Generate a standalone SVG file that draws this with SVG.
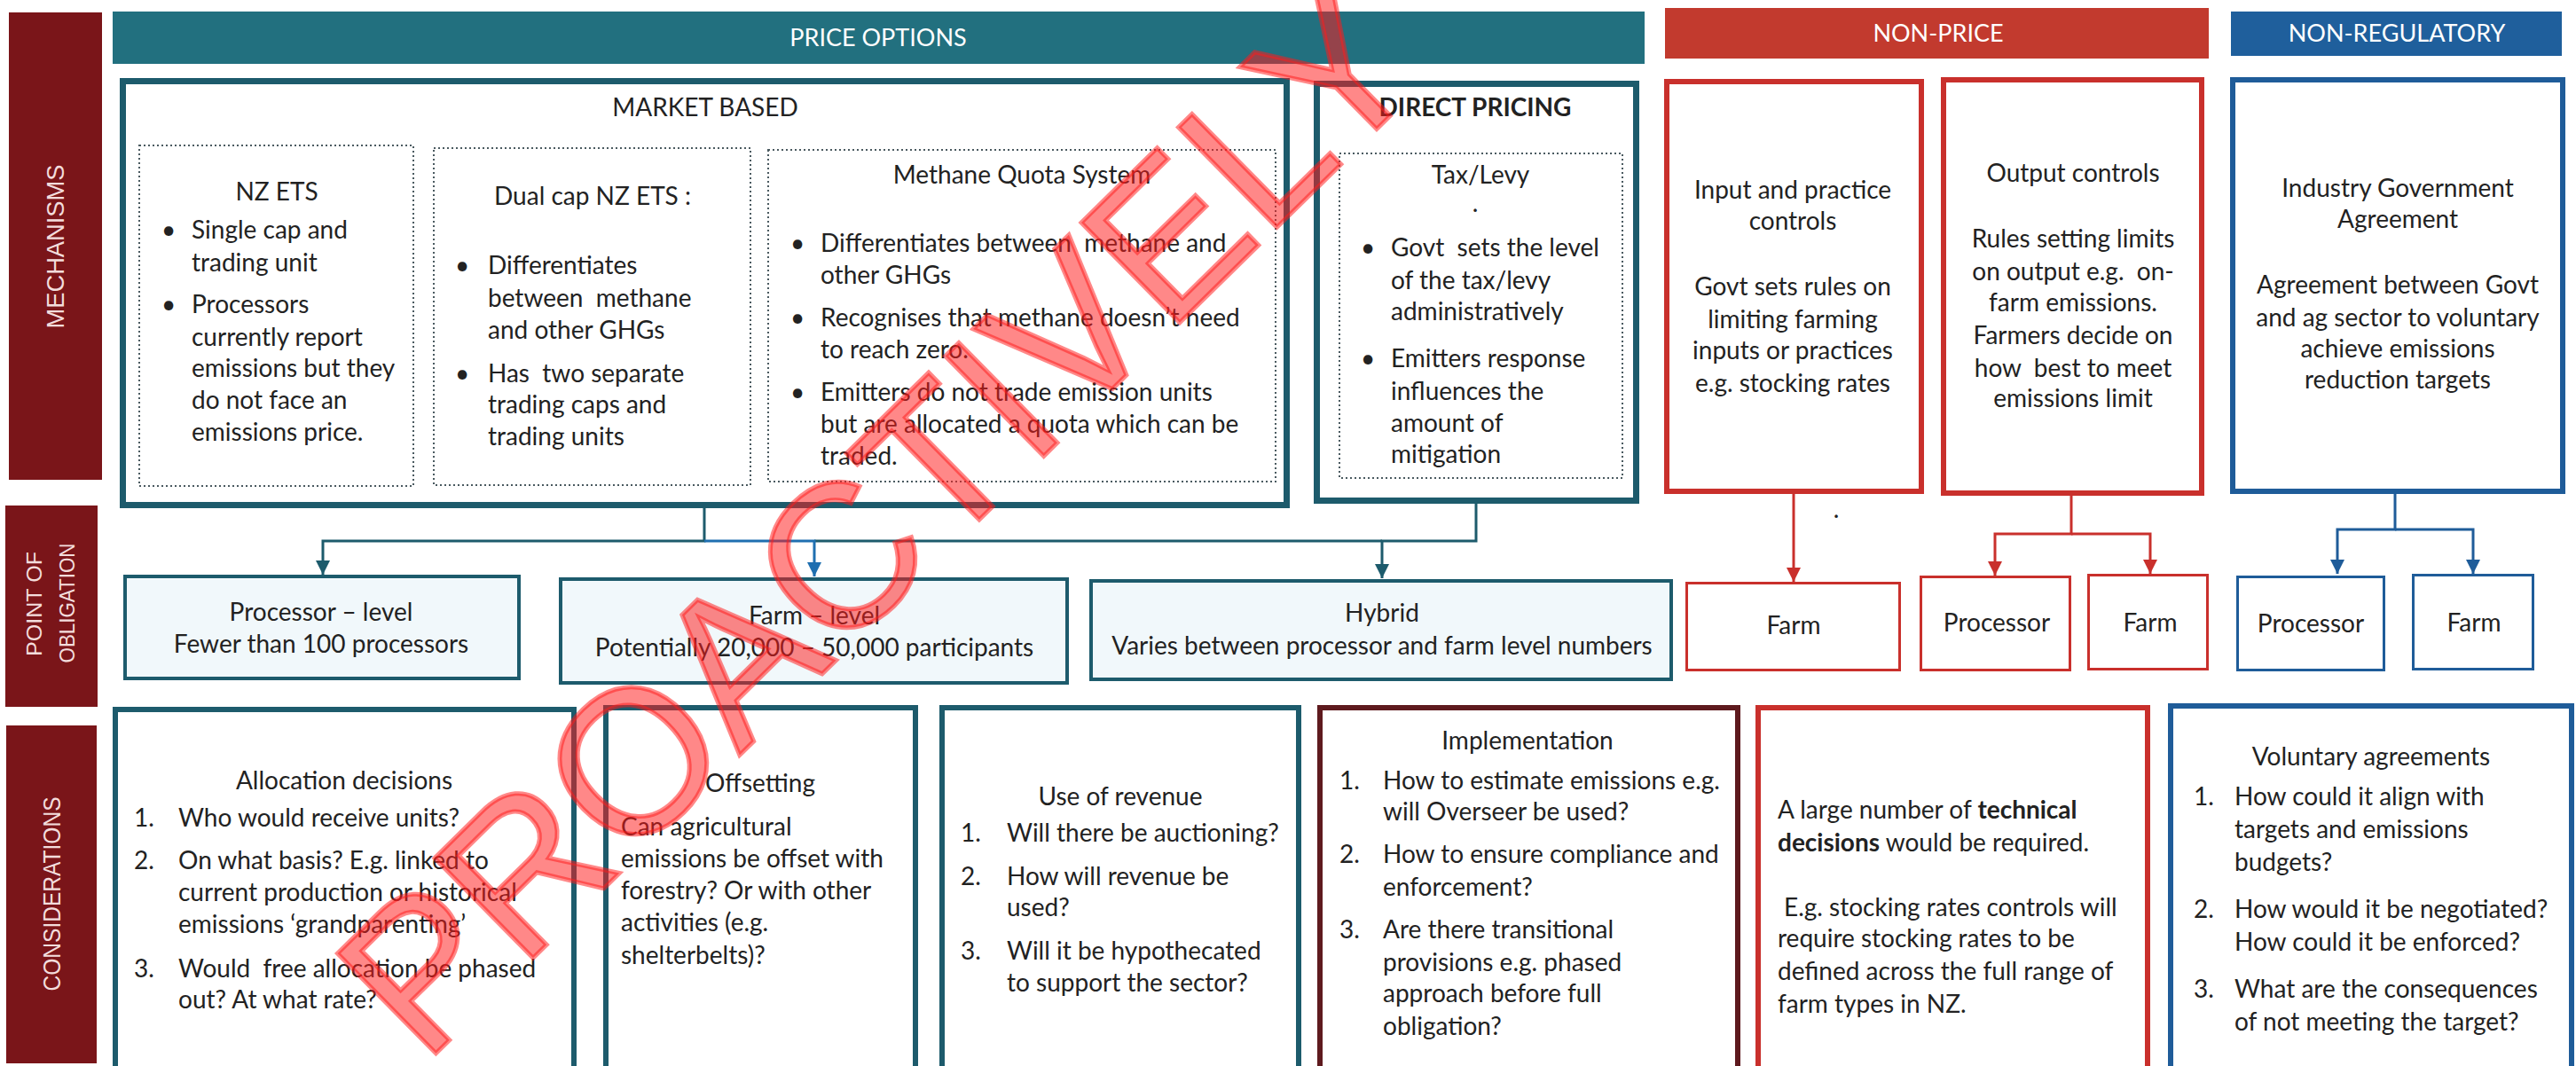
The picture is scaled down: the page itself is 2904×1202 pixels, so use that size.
<svg xmlns="http://www.w3.org/2000/svg" width="2904" height="1202" viewBox="0 0 2904 1202">
<defs>
<style>
text{font-family:Lato,"Liberation Sans",sans-serif;font-size:28px;fill:#222}
.c{text-anchor:middle}
.b{font-weight:bold}
.pre{white-space:pre}
.hdr{fill:#fff;font-size:27px}
.side{fill:#f3dcdc;font-family:"Liberation Sans",sans-serif;font-size:27px;text-anchor:middle}
.tealbox{fill:#fff;stroke:#1d5b6c;stroke-width:7}
.dot{fill:none;stroke:#4a5a60;stroke-width:2;stroke-dasharray:2 3}
.redbox{fill:#fff;stroke:#c9302c;stroke-width:6}
.bluebox{fill:#fff;stroke:#1f5c99;stroke-width:6}
.obl{fill:#f1f8fb;stroke:#1d5b6c;stroke-width:4}
.redsm{fill:#fff;stroke:#c9302c;stroke-width:3}
.bluesm{fill:#fff;stroke:#1f5c99;stroke-width:3}
.con{fill:#fff;stroke-width:6}
.ln{fill:none;stroke-width:3}
.lt{stroke:#1d5b6c}
.lb{stroke:#1f6fb0}
.lr{stroke:#c9302c}
.lbl{stroke:#1f5c99}
</style>
<marker id="aT" viewBox="0 0 10 10" refX="10" refY="5" markerWidth="16" markerHeight="16" markerUnits="userSpaceOnUse" orient="auto"><path d="M0,0 L10,5 L0,10 z" fill="#1d5b6c"/></marker>
<marker id="aB" viewBox="0 0 10 10" refX="10" refY="5" markerWidth="16" markerHeight="16" markerUnits="userSpaceOnUse" orient="auto"><path d="M0,0 L10,5 L0,10 z" fill="#1f6fb0"/></marker>
<marker id="aR" viewBox="0 0 10 10" refX="10" refY="5" markerWidth="16" markerHeight="16" markerUnits="userSpaceOnUse" orient="auto"><path d="M0,0 L10,5 L0,10 z" fill="#c9302c"/></marker>
<marker id="aBl" viewBox="0 0 10 10" refX="10" refY="5" markerWidth="16" markerHeight="16" markerUnits="userSpaceOnUse" orient="auto"><path d="M0,0 L10,5 L0,10 z" fill="#1f5c99"/></marker>
</defs>
<rect x="0" y="0" width="2904" height="1202" fill="#fff"/>

<!-- side bars -->
<g id="side-mechanisms"><rect x="10" y="14" width="105" height="527" fill="#7a1519"/><text class="side" transform="translate(72 278) rotate(-90)" textLength="185" lengthAdjust="spacingAndGlyphs">MECHANISMS</text></g>
<g id="side-obligation"><rect x="6" y="570" width="104" height="227" fill="#7a1519"/><text class="side" style="font-size:24px" transform="translate(47 681) rotate(-90)" textLength="118" lengthAdjust="spacingAndGlyphs">POINT OF</text><text class="side" style="font-size:24px" transform="translate(84 680) rotate(-90)" textLength="135" lengthAdjust="spacingAndGlyphs">OBLIGATION</text></g>
<g id="side-considerations"><rect x="7" y="818" width="102" height="381" fill="#7a1519"/><text class="side" transform="translate(68 1008) rotate(-90)" textLength="219" lengthAdjust="spacingAndGlyphs">CONSIDERATIONS</text></g>

<!-- headers -->
<g id="hdr-price"><rect x="127" y="13" width="1727" height="59" fill="#22707f"/><text class="c hdr" x="990" y="52">PRICE OPTIONS</text></g>
<g id="hdr-nonprice"><rect x="1877" y="9" width="613" height="57" fill="#c23a2e"/><text class="c hdr" x="2185" y="47">NON-PRICE</text></g>
<g id="hdr-nonreg"><rect x="2515" y="13" width="373" height="50" fill="#1f5f9c"/><text class="c hdr" x="2702" y="47">NON-REGULATORY</text></g>

<!-- connectors -->
<g id="connectors">
<path class="ln lt" d="M794 573 V610 H364 V648" marker-end="url(#aT)"/>
<path class="ln lt" d="M1558 610 H918"/>
<path class="ln lb" d="M794 610 H918 V650" marker-end="url(#aB)"/>
<path class="ln lt" d="M1664 568 V610 H1558 V652" marker-end="url(#aT)"/>
<path class="ln lr" d="M2022 557 V656" marker-end="url(#aR)"/>
<path class="ln lr" d="M2335 559 V602 H2249 V649" marker-end="url(#aR)"/>
<path class="ln lr" d="M2335 602 H2424 V647" marker-end="url(#aR)"/>
<path class="ln lbl" d="M2700 557 V597 H2635 V647" marker-end="url(#aBl)"/>
<path class="ln lbl" d="M2700 597 H2788 V647" marker-end="url(#aBl)"/>
</g>

<!-- mechanisms row -->
<g id="market-based"><rect class="tealbox" x="138.5" y="91.5" width="1312" height="478"/><text class="c" x="795" y="131">MARKET BASED</text></g>
<g id="nz-ets"><rect class="dot" x="157" y="164" width="309" height="384"/>
<text class="c" x="312" y="226">NZ ETS</text>
<text x="182" y="269">•</text><text x="216" y="269">Single cap and</text><text x="216" y="306">trading unit</text>
<text x="182" y="353">•</text><text x="216" y="353">Processors</text><text x="216" y="390">currently report</text><text x="216" y="425">emissions but they</text><text x="216" y="461">do not face an</text><text x="216" y="497">emissions price.</text></g>
<g id="dual-cap"><rect class="dot" x="489" y="167" width="357" height="380"/>
<text class="c" x="668" y="231">Dual cap NZ ETS :</text>
<text x="513" y="309">•</text><text x="550" y="309">Differentiates</text><text class="pre" x="550" y="346">between  methane</text><text x="550" y="382">and other GHGs</text>
<text x="513" y="431">•</text><text class="pre" x="550" y="431">Has  two separate</text><text x="550" y="466">trading caps and</text><text x="550" y="502">trading units</text></g>
<g id="methane-quota"><rect class="dot" x="866" y="169" width="572" height="374"/>
<text class="c" x="1152" y="207">Methane Quota System</text>
<text x="891" y="284">•</text><text class="pre" x="925" y="284">Differentiates between  methane and</text><text x="925" y="320">other GHGs</text>
<text x="891" y="368">•</text><text x="925" y="368">Recognises that methane doesn’t need</text><text x="925" y="404">to reach zero.</text>
<text x="891" y="452">•</text><text x="925" y="452">Emitters do not trade emission units</text><text x="925" y="488">but are allocated a quota which can be</text><text x="925" y="524">traded.</text></g>
<g id="direct-pricing"><rect class="tealbox" x="1484.5" y="94.5" width="360" height="470"/><text class="c b" x="1663" y="131">DIRECT PRICING</text></g>
<g id="tax-levy"><rect class="dot" x="1510" y="173" width="319" height="366"/>
<text class="c" x="1669" y="207">Tax/Levy</text><text class="c" x="1663" y="239">.</text>
<text x="1534" y="289">•</text><text class="pre" x="1568" y="289">Govt  sets the level</text><text x="1568" y="326">of the tax/levy</text><text x="1568" y="361">administratively</text>
<text x="1534" y="414">•</text><text x="1568" y="414">Emitters response</text><text x="1568" y="451">influences the</text><text x="1568" y="487">amount of</text><text x="1568" y="522">mitigation</text></g>
<g id="input-controls"><rect class="redbox" x="1879" y="92" width="287" height="462"/>
<text class="c" x="2021" y="224">Input and practice</text><text class="c" x="2021" y="259">controls</text>
<text class="c" x="2021" y="333">Govt sets rules on</text><text class="c" x="2021" y="370">limiting farming</text><text class="c" x="2021" y="405">inputs or practices</text><text class="c" x="2021" y="442">e.g. stocking rates</text></g>
<g id="output-controls"><rect class="redbox" x="2191" y="90" width="291" height="466"/>
<text class="c" x="2337" y="205">Output controls</text>
<text class="c" x="2337" y="279">Rules setting limits</text><text class="c pre" x="2337" y="316">on output e.g.  on-</text><text class="c" x="2337" y="351">farm emissions.</text><text class="c" x="2337" y="388">Farmers decide on</text><text class="c pre" x="2337" y="425">how  best to meet</text><text class="c" x="2337" y="459">emissions limit</text></g>
<g id="industry-agreement"><rect class="bluebox" x="2517" y="90" width="372" height="464"/>
<text class="c" x="2703" y="222">Industry Government</text><text class="c" x="2703" y="257">Agreement</text>
<text class="c" x="2703" y="331">Agreement between Govt</text><text class="c" x="2703" y="368">and ag sector to voluntary</text><text class="c" x="2703" y="403">achieve emissions</text><text class="c" x="2703" y="438">reduction targets</text></g>
<text x="2070" y="584" class="c">.</text>

<!-- point of obligation row -->
<g id="processor-level"><rect class="obl" x="141" y="650" width="444" height="115"/><text class="c" x="362" y="700">Processor – level</text><text class="c" x="362" y="736">Fewer than 100 processors</text></g>
<g id="farm-level"><rect class="obl" x="632" y="653" width="571" height="117"/><text class="c" x="918" y="704">Farm – level</text><text class="c" x="918" y="740">Potentially 20,000 – 50,000 participants</text></g>
<g id="hybrid"><rect class="obl" x="1230" y="655" width="654" height="111"/><text class="c" x="1558" y="701">Hybrid</text><text class="c" x="1558" y="738">Varies between processor and farm level numbers</text></g>
<g id="np-farm"><rect class="redsm" x="1901.5" y="657.5" width="240" height="98"/><text class="c" x="2022" y="715">Farm</text></g>
<g id="np-processor"><rect class="redsm" x="2165.5" y="650.5" width="168" height="105"/><text class="c" x="2251" y="712">Processor</text></g>
<g id="np-farm2"><rect class="redsm" x="2354.5" y="648.5" width="134" height="106"/><text class="c" x="2424" y="712">Farm</text></g>
<g id="nr-processor"><rect class="bluesm" x="2522.5" y="650.5" width="165" height="105"/><text class="c" x="2605" y="713">Processor</text></g>
<g id="nr-farm"><rect class="bluesm" x="2720.5" y="648.5" width="135" height="106"/><text class="c" x="2789" y="712">Farm</text></g>

<!-- considerations row -->
<g id="allocation"><rect class="con" stroke="#1d5b6c" x="130" y="800" width="517" height="420"/>
<text class="c" x="388" y="890">Allocation decisions</text>
<text x="151" y="932">1.</text><text x="201" y="932">Who would receive units?</text>
<text x="151" y="980">2.</text><text x="201" y="980">On what basis? E.g. linked to</text><text x="201" y="1016">current production or historical</text><text x="201" y="1052">emissions ‘grandparenting’</text>
<text x="151" y="1102">3.</text><text class="pre" x="201" y="1102">Would  free allocation be phased</text><text x="201" y="1137">out? At what rate?</text></g>
<g id="offsetting"><rect class="con" stroke="#1d5b6c" x="683" y="798" width="349" height="420"/>
<text class="c" x="857" y="893">Offsetting</text>
<text x="700" y="942">Can agricultural</text><text x="700" y="978">emissions be offset with</text><text x="700" y="1014">forestry? Or with other</text><text x="700" y="1050">activities (e.g.</text><text x="700" y="1087">shelterbelts)?</text></g>
<g id="use-of-revenue"><rect class="con" stroke="#1d5b6c" x="1062" y="798" width="402" height="420"/>
<text class="c" x="1263" y="908">Use of revenue</text>
<text x="1083" y="949">1.</text><text x="1135" y="949">Will there be auctioning?</text>
<text x="1083" y="998">2.</text><text x="1135" y="998">How will revenue be</text><text x="1135" y="1033">used?</text>
<text x="1083" y="1082">3.</text><text x="1135" y="1082">Will it be hypothecated</text><text x="1135" y="1118">to support the sector?</text></g>
<g id="implementation"><rect class="con" stroke="#5e1a1e" x="1488" y="798" width="471" height="420"/>
<text class="c" x="1722" y="845">Implementation</text>
<text x="1510" y="890">1.</text><text x="1559" y="890">How to estimate emissions e.g.</text><text x="1559" y="925">will Overseer be used?</text>
<text x="1510" y="973">2.</text><text x="1559" y="973">How to ensure compliance and</text><text x="1559" y="1010">enforcement?</text>
<text x="1510" y="1058">3.</text><text x="1559" y="1058">Are there transitional</text><text x="1559" y="1095">provisions e.g. phased</text><text x="1559" y="1130">approach before full</text><text x="1559" y="1167">obligation?</text></g>
<g id="technical-decisions"><rect class="con" stroke="#c9302c" x="1982" y="798" width="439" height="420"/>
<text x="2004" y="923">A large number of <tspan class="b">technical</tspan></text><text x="2004" y="960"><tspan class="b">decisions</tspan> would be required.</text>
<text x="2011" y="1033">E.g. stocking rates controls will</text><text x="2004" y="1068">require stocking rates to be</text><text x="2004" y="1105">defined across the full range of</text><text x="2004" y="1142">farm types in NZ.</text></g>
<g id="voluntary-agreements"><rect class="con" stroke="#1f5c99" x="2447" y="796" width="452" height="420"/>
<text class="c" x="2673" y="863">Voluntary agreements</text>
<text x="2473" y="908">1.</text><text x="2519" y="908">How could it align with</text><text x="2519" y="945">targets and emissions</text><text x="2519" y="982">budgets?</text>
<text x="2473" y="1035">2.</text><text x="2519" y="1035">How would it be negotiated?</text><text x="2519" y="1072">How could it be enforced?</text>
<text x="2473" y="1125">3.</text><text x="2519" y="1125">What are the consequences</text><text x="2519" y="1162">of not meeting the target?</text></g>

<!-- watermark -->
<g id="watermark"><text transform="translate(478 1201) rotate(-44.5)" x="0" y="0" style="font-family:'Liberation Sans',sans-serif;font-size:230px;fill:#ff1a1a;fill-opacity:0.52;stroke:#ff1a1a;stroke-opacity:0.52;stroke-width:5">PROACTIVELY</text></g>
</svg>
